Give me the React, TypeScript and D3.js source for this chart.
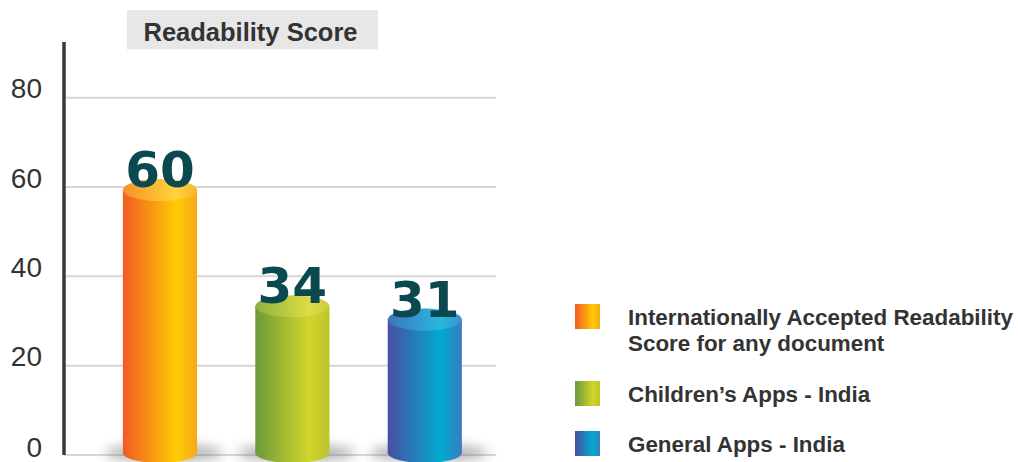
import React from "react";
import * as d3 from "d3";

const categories = ["intl", "children", "general"];
const values = [60, 34, 31];
const legendLines = [
  ["Internationally Accepted Readability", "Score for any document"],
  ["Children\u2019s Apps - India"],
  ["General Apps - India"],
];
const yTicks = [0, 20, 40, 60, 80];
const gradStops = [
  [["0", "#f15a24"], ["0.72", "#ffcb05"], ["1", "#f8a91b"]],
  [["0", "#6a9a3b"], ["0.72", "#d2d52a"], ["1", "#bcc42b"]],
  [["0", "#4a4ea1"], ["0.72", "#00abd0"], ["1", "#3c7bc1"]],
];
const topStops = [
  [["0", "#f6922a"], ["0.72", "#ffd43a"], ["1", "#fab531"]],
  [["0", "#8fb23f"], ["0.72", "#dcdc45"], ["1", "#c8cc3e"]],
  [["0", "#3f74bd"], ["0.72", "#27b9dc"], ["1", "#3e8fcc"]],
];

const FONT = "'Liberation Sans', Arial, Helvetica, sans-serif";
const NUMFONT = "'DejaVu Sans', 'Liberation Sans', sans-serif";

export default function App() {
  const W = 1018, H = 462;
  const y = d3.scaleLinear().domain([0, 80]).range([455, 97.7]);
  const x = d3
    .scaleBand<string>()
    .domain(categories)
    .range([93.75, 491])
    .paddingInner(0.44)
    .paddingOuter(0.22);
  const bw = x.bandwidth();
  const ryTop = 11;
  const ryBot = 10;
  const legendY = [304, 381, 431];

  return (
    <svg
      width={W}
      height={H}
      style={{ position: "absolute", left: 0, top: 0, background: "#fff" }}
      fontFamily={FONT}
    >
      <defs>
        {gradStops.map((stops, i) => (
          <linearGradient key={"g" + i} id={"bar" + i} x1="0" x2="1" y1="0" y2="0">
            {stops.map(([o, c]) => (
              <stop key={o} offset={o} stopColor={c} />
            ))}
          </linearGradient>
        ))}
        {topStops.map((stops, i) => (
          <linearGradient key={"t" + i} id={"top" + i} x1="0" x2="1" y1="0" y2="0">
            {stops.map(([o, c]) => (
              <stop key={o} offset={o} stopColor={c} />
            ))}
          </linearGradient>
        ))}
        <filter id="blur" x="-50%" y="-200%" width="200%" height="500%">
          <feGaussianBlur stdDeviation="6" />
        </filter>
      </defs>

      {/* title */}
      <rect x={127} y={10} width={251} height={39.5} fill="#e7e7e7" />
      <text x={250.5} y={41} textAnchor="middle" fontSize={25.5} fontWeight="bold" fill="#333">
        Readability Score
      </text>

      {/* grid */}
      {yTicks.map((t) => (
        <g key={t}>
          <line x1={64} x2={496} y1={y(t)} y2={y(t)} stroke="#d6d6d6" strokeWidth={2} />
          <text x={42} y={y(t) + (t === 0 ? 1.5 : 0.5)} textAnchor="end" fontSize={28} fill="#333">
            {t}
          </text>
        </g>
      ))}
      <line x1={64} x2={64} y1={42} y2={y(0)} stroke="#3a3a3a" strokeWidth={3.5} />

      {/* shadows */}
      {categories.map((c) => (
        <ellipse
          key={"s" + c}
          cx={x(c)! + bw / 2 + 4}
          cy={y(0) - 2}
          rx={bw / 2 + 22}
          ry={9}
          fill="#777"
          opacity={0.55}
          filter="url(#blur)"
        />
      ))}

      {/* bars */}
      {categories.map((c, i) => {
        const x0 = x(c)!;
        const cx = x0 + bw / 2;
        const yt = y(values[i]) + 3;
        const yb = y(0) - 2;
        return (
          <g key={c}>
            <rect x={x0} y={yt} width={bw} height={yb - yt} fill={`url(#bar${i})`} />
            <ellipse cx={cx} cy={yb} rx={bw / 2} ry={ryBot} fill={`url(#bar${i})`} />
            <ellipse cx={cx} cy={yt} rx={bw / 2} ry={ryTop} fill={`url(#top${i})`} />
            <text
              x={cx}
              y={y(values[i])}
              textAnchor="middle"
              fontFamily={NUMFONT}
              fontSize={50}
              fontWeight="bold"
              fill="#0b4950"
            >
              {values[i]}
            </text>
          </g>
        );
      })}

      {/* legend */}
      {categories.map((c, i) => (
        <g key={"l" + c}>
          <rect x={575} y={legendY[i]} width={25} height={25} fill={`url(#bar${i})`} />
          {legendLines[i].map((ln, j) => (
            <text
              key={j}
              x={628}
              y={legendY[i] + 21 + j * 26}
              fontSize={22.4}
              fontWeight="bold"
              fill="#333"
            >
              {ln}
            </text>
          ))}
        </g>
      ))}
    </svg>
  );
}
